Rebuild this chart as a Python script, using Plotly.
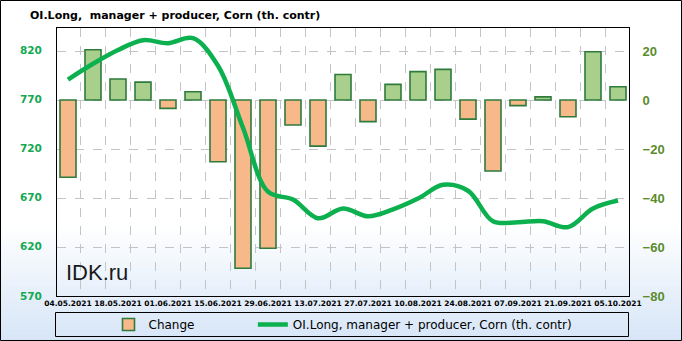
import plotly.graph_objects as go

dates = ["04.05.2021", "11.05.2021", "18.05.2021", "25.05.2021", "01.06.2021", "08.06.2021",
         "15.06.2021", "22.06.2021", "29.06.2021", "06.07.2021", "13.07.2021", "20.07.2021",
         "27.07.2021", "03.08.2021", "10.08.2021", "17.08.2021", "24.08.2021", "31.08.2021",
         "07.09.2021", "14.09.2021", "21.09.2021", "28.09.2021", "05.10.2021"]
change = [-31.5, 20.5, 8.6, 7.3, -3.4, 3.4, -25.2, -68.7, -60.5, -10.2, -18.8, 10.4,
          -8.8, 6.4, 11.6, 12.5, -7.8, -29.0, -2.3, 1.3, -6.8, 19.7, 5.4]
oi_long = [790, 806, 820, 830, 827, 832, 804, 741, 676, 668, 649, 659,
           651, 658, 669, 683, 677, 646, 645, 646, 640, 659, 667]

bar_name = "Change"
line_name = "OI.Long, manager + producer, Corn (th. contr)"
title_text = "OI.Long,\u00a0 manager + producer, Corn (th. contr)"

x = list(range(len(dates)))

# layout geometry (pixels)
W, H = 682, 341
L, R, T, B = 57, 629, 28, 296
pw, ph = R - L, B - T


def px_x(p):
    return (p - L) / pw


def px_y(p):
    return (B - p) / ph


bar_colors = ["#a8d08c" if v >= 0 else "#f7b88a" for v in change]

fig = go.Figure()
fig.add_trace(go.Bar(
    x=x, y=change, name=bar_name + "\u00a0" * 14, yaxis="y",
    marker=dict(color=bar_colors, line=dict(color="#2e7b3c", width=1.6)),
    width=0.64,
))
fig.add_trace(go.Scatter(
    x=x, y=oi_long, name=line_name, yaxis="y2", mode="lines",
    line=dict(color="#0cb04e", width=4.5, shape="spline", smoothing=1.0),
))

shapes = []
# background gradient (white -> light blue) across the bottom of the figure
g0, g1 = 225, 341
n = 30
c0 = (255, 255, 255)
c1 = (214, 229, 247)
for i in range(n):
    t = (i + 0.5) / n
    c = tuple(int(round(c0[k] + (c1[k] - c0[k]) * t)) for k in range(3))
    y0p = g0 + (g1 - g0) * i / n
    y1p = g0 + (g1 - g0) * (i + 1) / n + 0.6
    shapes.append(dict(type="rect", xref="paper", yref="paper",
                       x0=px_x(0), x1=px_x(W), y0=px_y(y1p), y1=px_y(y0p),
                       fillcolor="rgb(%d,%d,%d)" % c, line=dict(width=0), layer="below"))
# legend box
shapes.append(dict(type="rect", xref="paper", yref="paper",
                   x0=px_x(55.5), x1=px_x(628.5), y0=px_y(336.5), y1=px_y(312.5),
                   line=dict(color="black", width=1), fillcolor="rgba(0,0,0,0)", layer="above"))
# outer frame
shapes.append(dict(type="rect", xref="paper", yref="paper",
                   x0=px_x(0.5), x1=px_x(681.5), y0=px_y(340.5), y1=px_y(0.5),
                   line=dict(color="black", width=1), fillcolor="rgba(0,0,0,0)", layer="above"))

fig.update_layout(
    width=W, height=H,
    margin=dict(l=L, r=W - R, t=T, b=H - B, pad=0, autoexpand=False),
    paper_bgcolor="white",
    plot_bgcolor="rgba(0,0,0,0)",
    showlegend=True,
    bargap=0.36,
    title=dict(text="<b>" + title_text + "</b>", x=30 / W, xanchor="left",
               xref="container", y=1 - 15 / H, yanchor="middle",
               font=dict(family="DejaVu Sans", size=11, color="black")),
    xaxis=dict(
        range=[-0.44, len(dates) - 1 + 0.44],
        tickvals=x[::2], ticktext=dates[::2],
        tickfont=dict(family="DejaVu Sans", size=7.5, color="black", weight="bold"),
        showgrid=False, zeroline=False,
        showline=True, mirror=True, linecolor="black", linewidth=1,
        ticks="", ticklen=0,
        minor=dict(tickvals=[i + 0.5 for i in range(len(dates) - 1)], showgrid=True,
                   gridcolor="#c4c4c4", griddash="dash", gridwidth=1, ticks=""),
    ),
    yaxis=dict(
        side="right", range=[-80, 29.4], dtick=20, tick0=0,
        showgrid=True, gridcolor="#c4c4c4", griddash="dash", gridwidth=1,
        zeroline=False, showline=True, mirror=True, linecolor="black", linewidth=1,
        tickfont=dict(family="Liberation Sans", size=13, color="#5a8c2c", weight="bold"),
        ticks="outside", ticklen=10, tickcolor="rgba(0,0,0,0)",
    ),
    yaxis2=dict(
        side="left", overlaying="y", range=[570, 842.4], dtick=50, tick0=570,
        showgrid=False, zeroline=False, showline=False,
        tickfont=dict(family="DejaVu Sans", size=10.5, color="#14a852", weight="bold"),
        ticks="outside", ticklen=12, tickcolor="rgba(0,0,0,0)",
    ),
    legend=dict(orientation="h", x=0.5, xanchor="center", y=px_y(324.5), yanchor="middle",
                bgcolor="rgba(0,0,0,0)", borderwidth=0,
                font=dict(family="DejaVu Sans", size=12, color="black"),
                itemwidth=30, traceorder="normal"),
    shapes=shapes,
    annotations=[dict(text="IDK.ru", xref="paper", yref="paper", x=px_x(64), y=px_y(272),
                      xanchor="left", yanchor="middle", showarrow=False,
                      font=dict(family="Liberation Sans", size=22, color="#1a1a1a"))],
)

fig.write_html("out.html")
